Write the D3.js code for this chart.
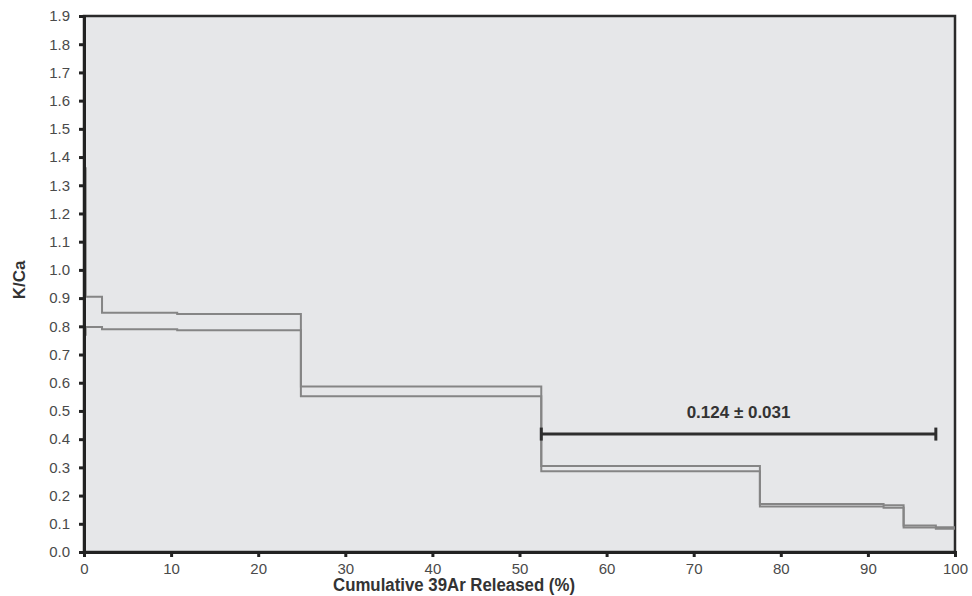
<!DOCTYPE html>
<html lang="en">
<head>
  <script src="https://d3js.org/d3.v7.min.js"></script>
  <style>
    body { margin: 0; background: #fff; font-family: "Liberation Sans", Arial, sans-serif; }
    .axis text { font: 15px "Liberation Sans", Arial, sans-serif; fill: #4a4a4a; }
    .axis path, .axis line { stroke: #222; }
  </style>
</head>
<body>
<div id="chart"></div>
<script>
  // step edges (cumulative % 39Ar released)
  var edges = [0, 0.2, 2.07, 10.7, 24.9, 52.5, 77.6, 91.8, 94.1, 97.8, 100];
  // upper and lower envelopes of K/Ca per step
  var upper = [1.36, 0.905, 0.848, 0.844, 0.587, 0.305, 0.170, 0.166, 0.094, 0.088];
  var lower = [0.77, 0.798, 0.790, 0.786, 0.552, 0.286, 0.161, 0.157, 0.087, 0.082];
  var xTicks = [0, 10, 20, 30, 40, 50, 60, 70, 80, 90, 100];
  var yTicks = d3.range(0, 20).map(function(i) { return i / 10; });
  // plateau bar
  var plateau = {from: 52.5, to: 97.8, y: 0.418, label: "0.124 \u00b1 0.031"};

  var margin = {top: 16, right: 17, bottom: 44, left: 84},
      width = 972 - margin.left - margin.right,
      height = 596 - margin.top - margin.bottom;

  var svg = d3.select("#chart").append("svg")
      .attr("width", 972)
      .attr("height", 596)
    .append("g")
      .attr("transform", "translate(" + margin.left + "," + margin.top + ")");

  var x = d3.scaleLinear().domain([0, 100]).range([0, width]);
  var y = d3.scaleLinear().domain([0, 1.9]).range([height, 0]);

  svg.append("rect")
      .attr("width", width)
      .attr("height", height)
      .attr("fill", "#e6e7e9")
      .attr("stroke", "#2a2a2a")
      .attr("stroke-width", 2.5);

  function stepData(vals) {
    var pts = vals.map(function(v, i) { return [edges[i], v]; });
    pts.push([edges[edges.length - 1], vals[vals.length - 1]]);
    return pts;
  }

  var line = d3.line()
      .x(function(d) { return x(d[0]); })
      .y(function(d) { return y(d[1]); })
      .curve(d3.curveStepAfter);

  [upper, lower].forEach(function(s) {
    svg.append("path")
        .datum(stepData(s))
        .attr("d", line)
        .attr("fill", "none")
        .attr("stroke", "#858585")
        .attr("stroke-width", 2);
  });

  // plateau bar
  var pg = svg.append("g").attr("stroke", "#2e2e2e");
  pg.append("line")
      .attr("x1", x(plateau.from)).attr("x2", x(plateau.to))
      .attr("y1", y(plateau.y)).attr("y2", y(plateau.y))
      .attr("stroke-width", 3);
  [plateau.from, plateau.to].forEach(function(v) {
    pg.append("line")
        .attr("x1", x(v)).attr("x2", x(v))
        .attr("y1", y(plateau.y) - 6.5).attr("y2", y(plateau.y) + 6.5)
        .attr("stroke-width", 3);
  });
  svg.append("text")
      .attr("x", (x(plateau.from) + x(plateau.to)) / 2)
      .attr("y", y(plateau.y) - 16)
      .attr("text-anchor", "middle")
      .style("font", "bold 17px 'Liberation Sans', Arial, sans-serif")
      .style("fill", "#333")
      .text(plateau.label);

  var gX = svg.append("g")
      .attr("class", "axis")
      .attr("transform", "translate(0," + height + ")")
      .call(d3.axisBottom(x).tickValues(xTicks).tickSize(5).tickPadding(6).tickFormat(d3.format("d")));
  gX.select(".domain").attr("stroke-width", 3);
  gX.selectAll(".tick line").attr("stroke-width", 3);

  var gY = svg.append("g")
      .attr("class", "axis")
      .call(d3.axisLeft(y).tickValues(yTicks).tickSize(5).tickPadding(9).tickFormat(d3.format(".1f")));
  gY.select(".domain").attr("stroke-width", 3);
  gY.selectAll(".tick line").attr("stroke-width", 3);

  svg.append("text")
      .attr("x", 454 - margin.left)
      .attr("y", height + 39)
      .attr("text-anchor", "middle")
      .attr("textLength", 242)
      .attr("lengthAdjust", "spacingAndGlyphs")
      .style("font", "bold 18px 'Liberation Sans', Arial, sans-serif")
      .style("fill", "#333")
      .text("Cumulative 39Ar Released (%)");

  svg.append("text")
      .attr("transform", "rotate(-90)")
      .attr("x", -(280 - margin.top))
      .attr("y", 25 - margin.left)
      .attr("text-anchor", "middle")
      .style("font", "bold 17px 'Liberation Sans', Arial, sans-serif")
      .style("fill", "#333")
      .text("K/Ca");
</script>
</body>
</html>
